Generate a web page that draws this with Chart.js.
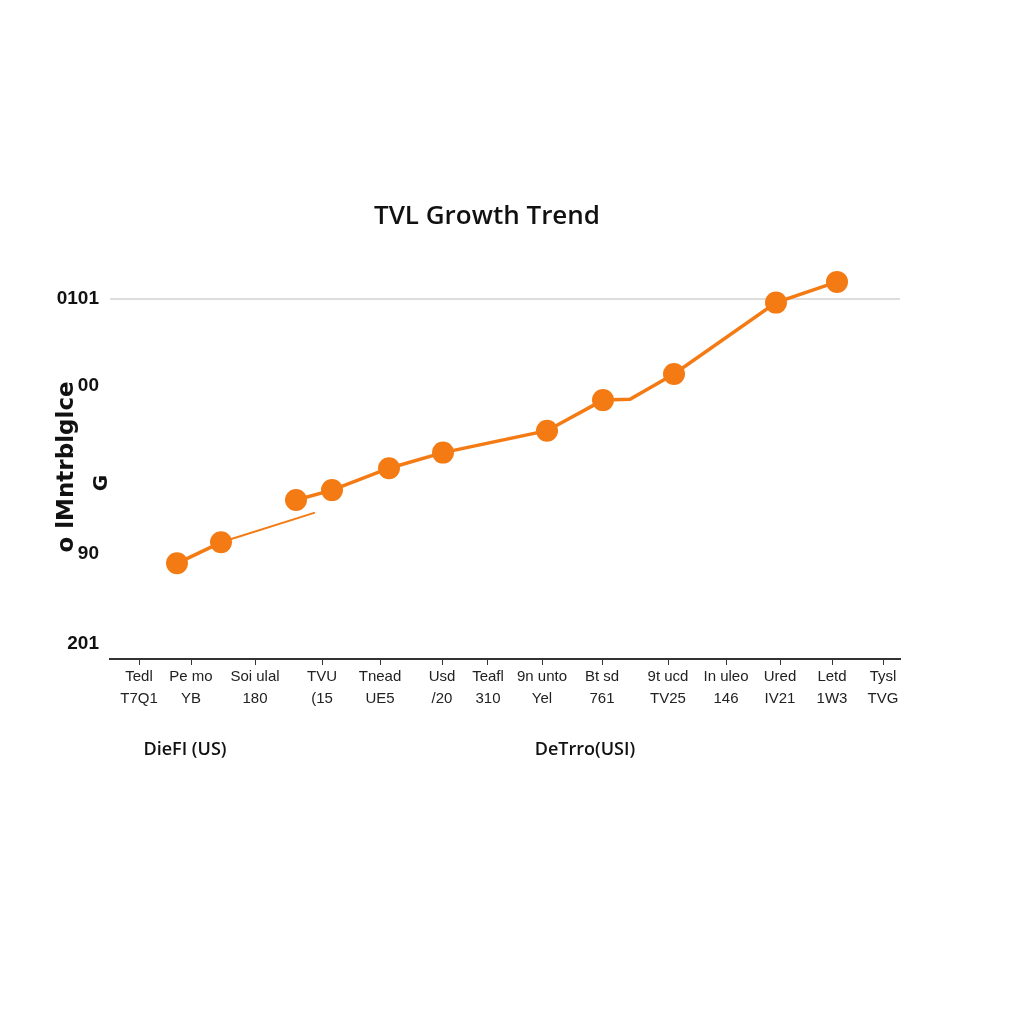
<!DOCTYPE html>
<html>
<head>
<meta charset="utf-8">
<title>TVL Growth Trend</title>
<script src="https://cdn.jsdelivr.net/npm/chart.js@4/dist/chart.umd.min.js"></script>
<style>
  html, body { margin: 0; padding: 0; background: #ffffff; }
  #wrap { width: 1024px; height: 1024px; position: relative; }
</style>
</head>
<body>
<div id="wrap"><canvas id="tvlChart"></canvas></div>
<script>
// chart text
const chartTitle = "TVL Growth Trend";
const yAxisTitle = ["o lMntrblglce", "G"];
const xAxisNotes = ["DieFI (US)", "DeTrro(USI)"];

// x axis ticks (two-line labels)
const xTickValues = [2.9, 8.1, 14.5, 21.2, 27.0, 33.2, 37.8, 43.2, 49.2, 55.8, 61.6, 67.0, 72.2, 77.3];
const xLabelTop = ["Tedl", "Pe mo", "Soi ulal", "TVU", "Tnead", "Usd", "Teafl", "9n unto", "Bt sd", "9t ucd", "In uleo", "Ured", "Letd", "Tysl"];
const xLabelBottom = ["T7Q1", "YB", "180", "(15", "UE5", "/20", "310", "Yel", "761", "TV25", "146", "IV21", "1W3", "TVG"];

// y axis ticks
const yTickValues = [5, 35, 91, 120];
const yTickLabels = ["201", "90", "00", "0101"];
const yGridValue = 120;

// TVL series (marked points)
const tvlX = [6.7, 11.1, 18.6, 22.2, 27.9, 33.3, 43.7, 49.3, 56.4, 66.6, 72.7];
const tvlY = [31.9, 38.9, 53.0, 56.3, 63.6, 68.8, 76.1, 86.3, 95.0, 118.8, 125.7];
// unmarked bend in the line between the 8th and 9th points
const bendX = [52.0];
const bendY = [86.6];
// line is broken between these two points
const breakAfter = 1;
// thin stray segment
const strayX = [11.1, 20.5];
const strayY = [38.9, 48.8];

const orange = '#f47b14';

// build the line path: points + bend, with a gap
let path = tvlX.map((x, i) => ({x: x, y: tvlY[i]}))
  .concat(bendX.map((x, i) => ({x: x, y: bendY[i]})))
  .sort((a, b) => a.x - b.x);
path.splice(breakAfter + 1, 0, {x: (tvlX[breakAfter] + tvlX[breakAfter + 1]) / 2, y: null});

const markers = tvlX.map((x, i) => ({x: x, y: tvlY[i]}));
const stray = strayX.map((x, i) => ({x: x, y: strayY[i]}));

// free text the axes can't place by themselves
const notesPlugin = {
  id: 'notes',
  afterDraw(chart) {
    const ctx = chart.ctx;
    ctx.save();
    ctx.fillStyle = '#111';
    ctx.textAlign = 'center';
    ctx.textBaseline = 'middle';

    ctx.font = '600 18px "Open Sans"';
    ctx.fillText(xAxisNotes[0], 185, 750);
    ctx.fillText(xAxisNotes[1], 585, 750);

    ctx.font = 'bold 23px "DejaVu Sans"';
    ctx.translate(67, 467);
    ctx.rotate(-Math.PI / 2);
    ctx.fillText(yAxisTitle[0], 0, 0);
    ctx.font = 'bold 20px "DejaVu Sans"';
    ctx.fillText(yAxisTitle[1], -16, 35);
    ctx.restore();
  }
};

const canvas = document.getElementById('tvlChart').getContext('2d');
const chart = new Chart(canvas, {
  type: 'line',
  data: {
    datasets: [
      {
        label: 'TVL points',
        data: markers,
        showLine: false,
        pointRadius: 11,
        pointHoverRadius: 11,
        pointBackgroundColor: orange,
        pointBorderColor: orange,
        pointBorderWidth: 0,
        order: 0
      },
      {
        label: 'TVL',
        data: path,
        borderColor: orange,
        borderWidth: 3.5,
        pointRadius: 0,
        spanGaps: false,
        order: 1
      },
      {
        label: 'stray',
        data: stray,
        borderColor: orange,
        borderWidth: 2,
        pointRadius: 0,
        order: 2
      }
    ]
  },
  options: {
    responsive: true,
    maintainAspectRatio: false,
    animation: false,
    clip: false,
    layout: {
      padding: {left: 30, right: 80, top: 0, bottom: 265}
    },
    plugins: {
      legend: { display: false },
      tooltip: { enabled: false },
      title: {
        display: true,
        text: chartTitle,
        color: '#111',
        font: {family: '"Open Sans"', size: 26, weight: '600'},
        padding: {top: 201, bottom: 30.8}
      }
    },
    scales: {
      x: {
        type: 'linear',
        min: 0,
        max: 79,
        afterFit: (scale) => { scale.height = 100; },
        afterBuildTicks: (scale) => { scale.ticks = xTickValues.map(v => ({value: v})); },
        grid: {
          drawOnChartArea: false,
          drawTicks: true,
          tickLength: 6,
          color: '#333'
        },
        border: { display: true, color: '#333', width: 2 },
        ticks: {
          autoSkip: false,
          maxRotation: 0,
          padding: 1,
          color: '#222',
          font: {family: '"Liberation Sans Narrow", "Liberation Sans"', size: 15, lineHeight: 1.45},
          callback: (val, i) => [xLabelTop[i], xLabelBottom[i]]
        }
      },
      y: {
        type: 'linear',
        min: 0,
        max: 132,
        afterFit: (scale) => { scale.width = 80; },
        afterBuildTicks: (scale) => { scale.ticks = yTickValues.map(v => ({value: v})); },
        grid: {
          drawTicks: false,
          lineWidth: 2,
          color: (ctx) => (ctx.tick && ctx.tick.value === yGridValue ? '#dddddd' : 'rgba(0,0,0,0)')
        },
        border: { display: false },
        ticks: {
          padding: 11,
          color: '#111',
          font: {family: '"Liberation Sans"', size: 19, weight: 'bold'},
          callback: (val, i) => yTickLabels[i]
        }
      },
      // empty right-hand strip so the title centres like the original
      yRight: {
        type: 'linear',
        position: 'right',
        min: 0,
        max: 132,
        afterFit: (scale) => { scale.width = 44; },
        grid: { display: false },
        border: { display: false },
        ticks: { display: false }
      }
    }
  },
  plugins: [notesPlugin]
});
</script>
</body>
</html>
